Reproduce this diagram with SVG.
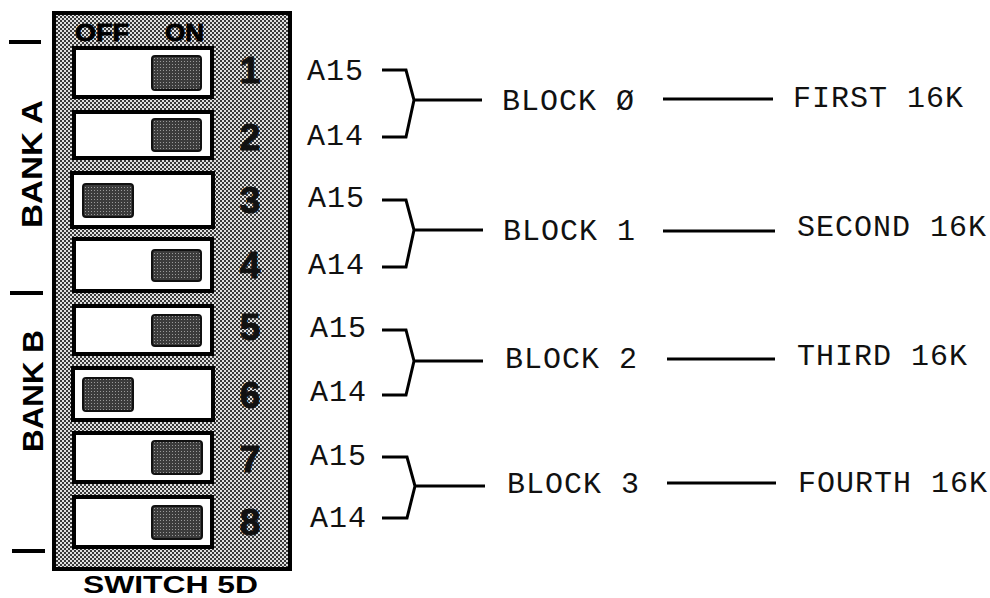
<svg xmlns="http://www.w3.org/2000/svg" width="990" height="598" viewBox="0 0 990 598">
<defs>
<pattern id="ht" width="4" height="4" patternUnits="userSpaceOnUse">
<rect width="4" height="4" fill="#e0e0e0"/>
<rect x="0" y="0" width="2" height="2" fill="#3a3a3a"/>
<rect x="2" y="2" width="2" height="2" fill="#3a3a3a"/>
</pattern>
<pattern id="kn" width="3" height="3" patternUnits="userSpaceOnUse">
<rect width="3" height="3" fill="#3c3c3c"/>
<rect x="1" y="1" width="1" height="1" fill="#9a9a9a"/>
</pattern>
<style>
.sw{fill:#fff;stroke:#000;stroke-width:4}
.kn{fill:url(#kn);stroke:#111;stroke-width:2}
.num{font-family:"Liberation Sans",Arial,sans-serif;font-weight:bold;font-size:37px;fill:#111;stroke:#111;stroke-width:1;text-anchor:middle}
.lbl{font-family:"Liberation Sans",Arial,sans-serif;font-weight:bold;fill:#000}
.mono{font-family:"Liberation Mono","Courier New",monospace;font-size:30px;letter-spacing:1px;fill:#111}
.ln{fill:none;stroke:#000;stroke-width:3;stroke-linejoin:miter}
</style>
</defs>
<rect width="990" height="598" fill="#fff"/>

<g id="switch-panel">
<rect x="54" y="13" width="236" height="556" fill="url(#ht)" stroke="#000" stroke-width="4"/>
<text class="lbl" x="75" y="41" font-size="24" textLength="54" lengthAdjust="spacingAndGlyphs" stroke="#000" stroke-width="0.8">OFF</text>
<text class="lbl" x="165" y="41" font-size="24" textLength="39" lengthAdjust="spacingAndGlyphs" stroke="#000" stroke-width="0.8">ON</text>
</g>

<g id="switch-1"><rect class="sw" x="74" y="48" width="138" height="49"/><rect class="kn" x="152" y="56" width="49" height="34" rx="3"/><text class="num" x="250" y="83">1</text></g>
<g id="switch-2"><rect class="sw" x="74" y="112" width="138" height="46"/><rect class="kn" x="152" y="119" width="49" height="32" rx="3"/><text class="num" x="250" y="150">2</text></g>
<g id="switch-3"><rect class="sw" x="72" y="173" width="141" height="54"/><rect class="kn" x="83" y="184" width="50" height="33" rx="3"/><text class="num" x="250" y="213">3</text></g>
<g id="switch-4"><rect class="sw" x="74" y="239" width="138" height="52"/><rect class="kn" x="152" y="250" width="49" height="31" rx="3"/><text class="num" x="250" y="278">4</text></g>
<g id="switch-5"><rect class="sw" x="74" y="306" width="138" height="48"/><rect class="kn" x="152" y="315" width="49" height="31" rx="3"/><text class="num" x="250" y="340">5</text></g>
<g id="switch-6"><rect class="sw" x="73" y="368" width="140" height="52"/><rect class="kn" x="83" y="378" width="50" height="33" rx="3"/><text class="num" x="250" y="408">6</text></g>
<g id="switch-7"><rect class="sw" x="74" y="433" width="138" height="49"/><rect class="kn" x="152" y="441" width="50" height="33" rx="3"/><text class="num" x="250" y="472">7</text></g>
<g id="switch-8"><rect class="sw" x="74" y="497" width="138" height="50"/><rect class="kn" x="152" y="506" width="50" height="33" rx="3"/><text class="num" x="250" y="535">8</text></g>

<g id="bank-labels">
<line x1="9" y1="42" x2="41" y2="42" stroke="#000" stroke-width="4"/>
<line x1="10" y1="293" x2="43" y2="293" stroke="#000" stroke-width="4"/>
<line x1="12" y1="551" x2="45" y2="551" stroke="#000" stroke-width="4"/>
<text class="lbl" font-size="30" transform="translate(42,228) rotate(-90)" textLength="128" lengthAdjust="spacingAndGlyphs">BANK A</text>
<text class="lbl" font-size="30" transform="translate(43,452) rotate(-90)" textLength="122" lengthAdjust="spacingAndGlyphs">BANK B</text>
<text class="lbl" x="83" y="593" font-size="23" textLength="175" lengthAdjust="spacingAndGlyphs">SWITCH 5D</text>
</g>

<g id="connectors">
<path class="ln" d="M382 70 H406 L414 100 L406 137 H382 M414 100 H482"/>
<path class="ln" d="M663 99 H773"/>
<path class="ln" d="M382 200 H406 L414 230 L406 267 H382 M414 230 H483"/>
<path class="ln" d="M663 231 H775"/>
<path class="ln" d="M382 330 H406 L414 361 L406 395 H382 M414 361 H483"/>
<path class="ln" d="M667 359 H775"/>
<path class="ln" d="M382 457 H407 L415 486 L407 518 H382 M415 486 H485"/>
<path class="ln" d="M667 483 H776"/>
</g>

<g id="block-0">
<text class="mono" x="307" y="80">A15</text>
<text class="mono" x="307" y="145">A14</text>
<text class="mono" x="502" y="110">BLOCK Ø</text>
<text class="mono" x="793" y="107">FIRST 16K</text>
</g>
<g id="block-1">
<text class="mono" x="308" y="207">A15</text>
<text class="mono" x="308" y="274">A14</text>
<text class="mono" x="503" y="240">BLOCK 1</text>
<text class="mono" x="797" y="236">SECOND 16K</text>
</g>
<g id="block-2">
<text class="mono" x="310" y="337">A15</text>
<text class="mono" x="310" y="401">A14</text>
<text class="mono" x="505" y="368">BLOCK 2</text>
<text class="mono" x="797" y="365">THIRD 16K</text>
</g>
<g id="block-3">
<text class="mono" x="310" y="465">A15</text>
<text class="mono" x="310" y="527">A14</text>
<text class="mono" x="507" y="493">BLOCK 3</text>
<text class="mono" x="798" y="492">FOURTH 16K</text>
</g>
</svg>
